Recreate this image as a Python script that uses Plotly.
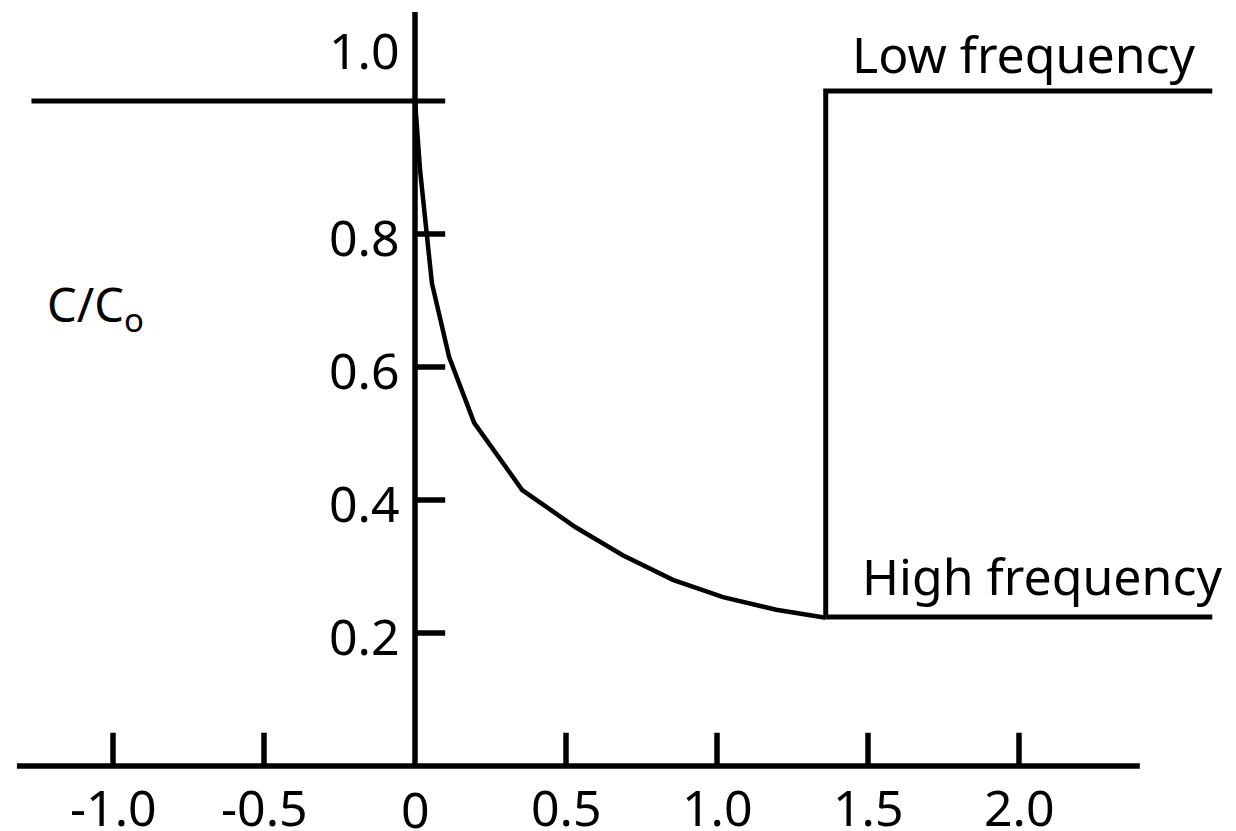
import plotly.graph_objects as go

# ---- data ----
curve_x = [0.0, 0.017, 0.056, 0.113, 0.196, 0.355, 0.532, 0.688, 0.854, 1.020, 1.196, 1.36]
curve_y = [1.0, 0.895, 0.726, 0.615, 0.516, 0.415, 0.359, 0.317, 0.280, 0.254, 0.235, 0.223]

initial_x = [-1.27, 0.1]
initial_y = [1.0, 1.0]

low_freq_x = [1.36, 1.36, 2.64]
low_freq_y = [0.223, 1.015, 1.015]

high_freq_x = [1.36, 2.64]
high_freq_y = [0.224, 0.224]

x_axis_extent = [-1.318, 2.40]
y_axis_extent = [0.0, 1.134]

x_ticks = [-1.0, -0.5, 0.5, 1.0, 1.5, 2.0]
x_label_vals = [-1.0, -0.5, 0.0, 0.5, 1.0, 1.5, 2.0]
x_label_text = ["-1.0", "-0.5", "0", "0.5", "1.0", "1.5", "2.0"]

y_ticks = [0.2, 0.4, 0.6, 0.8]
y_label_vals = [0.2, 0.4, 0.6, 0.8, 1.0]
y_label_text = ["0.2", "0.4", "0.6", "0.8", "1.0"]

y_title = "C/C<sub>o</sub>"
low_label = "Low frequency"
high_label = "High frequency"

FONT = "Noto Sans"
FS = 50
BLACK = "#000000"

# page body has an 8px margin; figure sized to fit the window
PAGE_OFF = 8
W, H = 1236 - PAGE_OFF, 831 - PAGE_OFF
X0_PX, X_SCALE = 415, 302
Y0_PX, Y_SCALE = 766, 665

fig = go.Figure()

def line(x, y, w):
    fig.add_trace(go.Scatter(x=x, y=y, mode="lines",
                             line=dict(color=BLACK, width=w),
                             hoverinfo="skip", showlegend=False))

# axes
line(x_axis_extent, [0, 0], 5.5)
line([0, 0], y_axis_extent, 5.5)

# tick marks
XT_LEN = 0.05
YT_LEN = 0.1
tx, ty = [], []
for v in x_ticks:
    tx += [v, v, None]
    ty += [0, XT_LEN, None]
line(tx, ty, 5.5)
tx, ty = [], []
for v in y_ticks:
    tx += [0, YT_LEN, None]
    ty += [v, v, None]
line(tx, ty, 5.5)

# data lines
line(initial_x, initial_y, 5)
line(curve_x, curve_y, 4.5)
line(low_freq_x, low_freq_y, 5)
line(high_freq_x, high_freq_y, 5)

ann = []
for v, t in zip(x_label_vals, x_label_text):
    ann.append(dict(x=v, y=0, text=t, showarrow=False, xanchor="center",
                    yanchor="middle", yshift=-41 if v != 0 else -43,
                    font=dict(family=FONT, size=FS, color=BLACK)))
for v, t in zip(y_label_vals, y_label_text):
    ann.append(dict(x=0, y=v, text=t, showarrow=False, xanchor="right",
                    yanchor="middle", xshift=-13, yshift=51 if v == 1.0 else -3,
                    font=dict(family=FONT, size=FS, color=BLACK)))
ann.append(dict(x=-1.225, y=0.69, text=y_title, showarrow=False, xanchor="left",
                yanchor="middle", font=dict(family=FONT, size=FS - 3, color=BLACK)))
ann.append(dict(x=1.44, y=1.07, text=low_label, showarrow=False, xanchor="left",
                yanchor="middle", font=dict(family=FONT, size=FS, color=BLACK)))
ann.append(dict(x=1.475, y=0.285, text=high_label, showarrow=False, xanchor="left",
                yanchor="middle", font=dict(family=FONT, size=FS, color=BLACK)))

fig.update_layout(
    width=W, height=H,
    margin=dict(l=0, r=0, t=0, b=0),
    paper_bgcolor="white", plot_bgcolor="white",
    xaxis=dict(range=[(PAGE_OFF - X0_PX) / X_SCALE, (PAGE_OFF + W - X0_PX) / X_SCALE],
               visible=False, fixedrange=True),
    yaxis=dict(range=[(Y0_PX - PAGE_OFF - H) / Y_SCALE, (Y0_PX - PAGE_OFF) / Y_SCALE],
               visible=False, fixedrange=True),
    annotations=ann,
    font=dict(family=FONT),
)

fig.write_html("out.html")
